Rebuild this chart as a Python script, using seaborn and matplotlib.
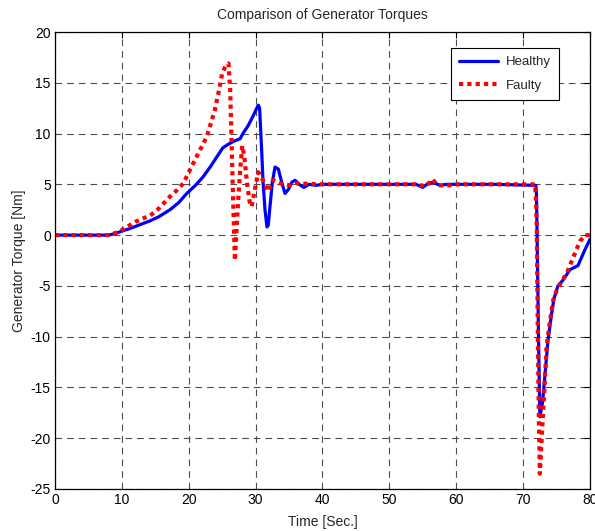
import matplotlib
matplotlib.use("Agg")
import matplotlib.pyplot as plt
import seaborn as sns
import numpy as np

# healthy generator torque
t_healthy = [0, 8, 9, 10, 11, 12, 13, 14.2, 15.5, 17.2,
             18.5, 19.7, 21, 22.1, 23.2, 24.2, 25.1, 25.8, 26.6, 27.7,
             28.1, 28.9, 29.6, 30.1, 30.4, 30.6, 30.9, 31.1, 31.4, 31.7,
             31.9, 32.1, 32.5, 32.9, 33.4, 33.9, 34.4, 34.9, 35.4, 35.9,
             36.5, 37.2, 38, 39, 40, 54, 55, 55.8, 56.5, 57.6,
             58.5, 66, 71.9, 72.0, 72.15, 72.3, 72.5, 72.9, 73.3, 73.7,
             74.2, 74.6, 75.2, 76, 77, 78.2, 79.2, 80]
torque_healthy = [0, 0, 0.15, 0.4, 0.6, 0.85, 1.1, 1.4, 1.8, 2.5,
                  3.2, 4.1, 4.9, 5.7, 6.7, 7.7, 8.6, 8.9, 9.2, 9.5,
                  10.0, 10.8, 11.7, 12.4, 12.8, 12.5, 8.4, 5.4, 2.5, 0.8,
                  1.0, 2.5, 5.2, 6.7, 6.5, 5.2, 4.1, 4.5, 5.2, 5.4,
                  5.0, 4.7, 5.0, 4.9, 5.0, 5.0, 4.7, 5.1, 5.2, 4.9,
                  5.0, 5.0, 4.9, 4.0, -3.0, -10.0, -17.9, -16.5, -13.5, -10.5,
                  -8.0, -6.3, -5.0, -4.4, -3.4, -3.0, -1.5, -0.4]

# faulty generator torque
t_faulty = [0, 8, 9, 10, 11, 12, 13, 14.2, 15.5, 17.2,
            18.2, 19.2, 20.7, 21.7, 22.7, 23.9, 24.5, 25.0, 25.4, 25.7,
            25.95, 26.2, 26.45, 26.7, 26.9, 27.15, 27.4, 27.7, 28.0, 28.3,
            28.7, 29.1, 29.4, 29.9, 30.4, 31.1, 31.9, 32.6, 33.6, 35.1,
            36, 40, 54, 55.5, 56.4, 57.3, 59.3, 60, 66, 71.8,
            71.95, 72.05, 72.2, 72.35, 72.5, 72.7, 72.9, 73.2, 73.5, 74,
            74.5, 75, 75.7, 76.5, 77.3, 78.5, 79.3, 80]
torque_faulty = [0, 0, 0.2, 0.5, 0.9, 1.3, 1.6, 1.9, 2.6, 3.8,
                 4.4, 5.1, 7.1, 8.4, 9.7, 12.3, 14.2, 15.9, 16.5, 16.8,
                 16.9, 14.3, 8.0, 2.0, -2.5, 0.5, 3.5, 6.5, 8.8, 7.8,
                 5.2, 3.3, 2.8, 4.5, 6.2, 5.4, 4.3, 5.4, 5.1, 4.9,
                 5.1, 5.0, 5.0, 4.8, 5.5, 4.9, 4.9, 5.0, 5.0, 5.0,
                 3.0, 0.5, -10.0, -18.0, -23.5, -21.0, -18.5, -15.0, -11.0, -8.5,
                 -6.4, -5.5, -4.6, -3.8, -2.5, -0.6, 0.0, 0.0]

sns.set_style("white")
plt.rcParams['font.family'] = ['Liberation Sans', 'DejaVu Sans']
plt.rcParams['axes.unicode_minus'] = False

fig = plt.figure(figsize=(5.95, 5.31), dpi=100)
ax = fig.add_axes([0.0924, 0.0791, 0.8992, 0.8606])

sns.lineplot(x=t_healthy, y=torque_healthy, ax=ax, color='#0000ff', lw=2.3,
             sort=False, estimator=None, label='Healthy')
sns.lineplot(x=t_faulty, y=torque_faulty, ax=ax, color='#ff0000', lw=3.0,
             sort=False, estimator=None, label='Faulty')
ax.lines[-1].set_dashes((1, 1))
ax.lines[-1].set_dash_capstyle('butt')

ax.set_xlim(0, 80)
ax.set_ylim(-25, 20)
ax.set_xticks(np.arange(0, 81, 10))
ax.set_yticks(np.arange(-25, 21, 5))
ax.grid(True, color='0.3', lw=0.8, linestyle=(0, (6, 4.5)))
ax.tick_params(direction='in', top=True, right=True, length=4.5, labelsize=10,
               colors='black', pad=3)
for s in ax.spines.values():
    s.set_color('black')
    s.set_linewidth(0.9)

ax.set_title('Comparison of Generator Torques', fontsize=10, pad=9.5)
ax.set_xlabel('Time [Sec.]', fontsize=10, labelpad=6)
ax.set_ylabel('Generator Torque [Nm]', fontsize=10, labelpad=3.5)

leg = ax.legend(loc='upper right', bbox_to_anchor=(0.942, 0.965), borderaxespad=0,
                fancybox=False, edgecolor='black', fontsize=9.5, handlelength=3.0,
                labelspacing=0.85, borderpad=0.6, handletextpad=0.6, framealpha=1)
leg.get_frame().set_linewidth(0.8)
leg.legend_handles[1].set_dashes((1, 1))

fig.savefig('out.png', dpi=100)
